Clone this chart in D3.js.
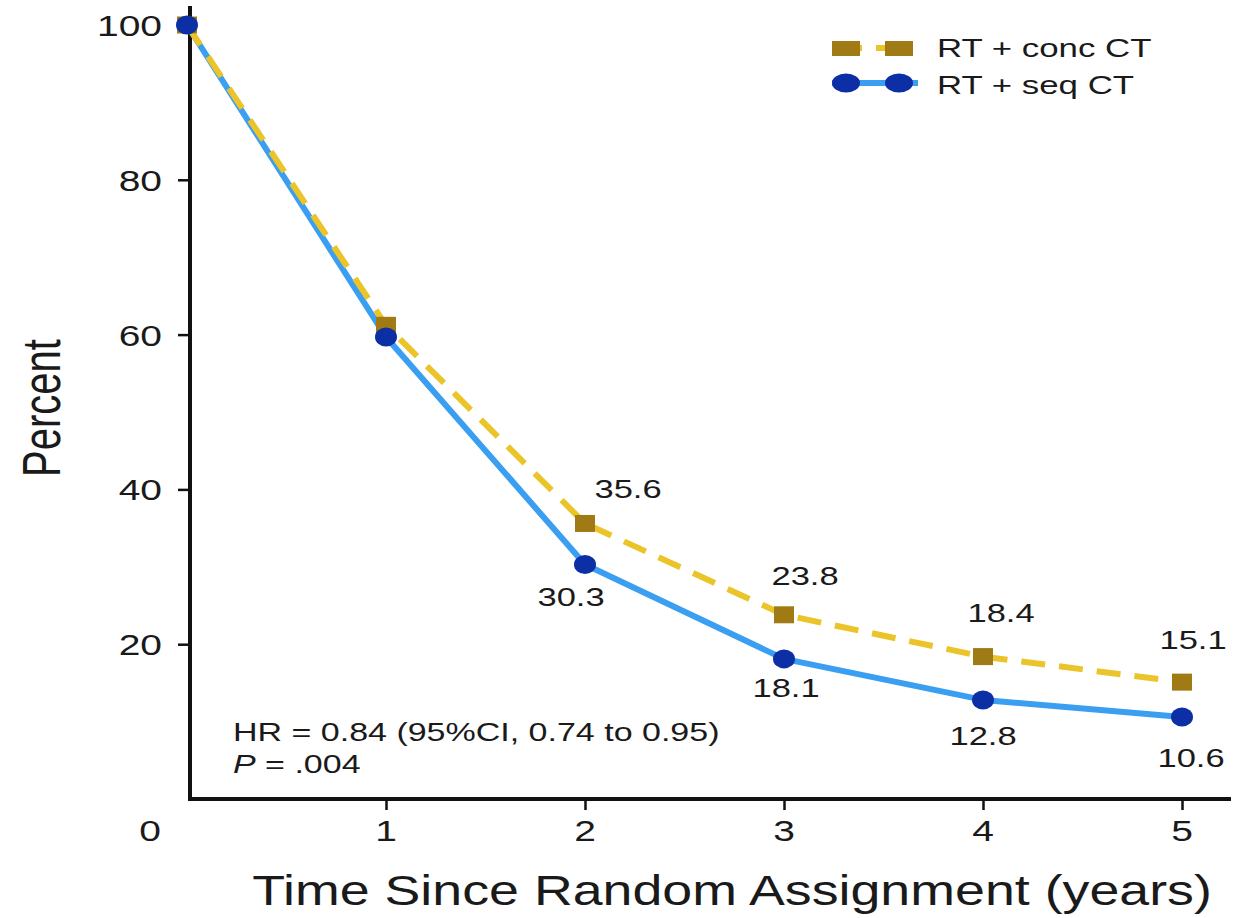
<!DOCTYPE html>
<html><head><meta charset="utf-8">
<script src="https://cdn.jsdelivr.net/npm/d3@7"></script>
<style>body{margin:0;background:#fff}text{font-family:"Liberation Sans",Arial,sans-serif;fill:#1a1a1a}</style>
</head><body><svg id="c" width="1236" height="918"></svg>
<script>
const years = [0, 1, 2, 3, 4, 5];
const concCT = [100, 61.2, 35.6, 23.8, 18.4, 15.1];
const seqCT = [100, 59.7, 30.3, 18.1, 12.8, 10.6];
const concLabels = ["", "", "35.6", "23.8", "18.4", "15.1"];
const seqLabels = ["", "", "30.3", "18.1", "12.8", "10.6"];
const yTicks = [20, 40, 60, 80, 100];
const xTicks = [1, 2, 3, 4, 5];
const seriesNames = ["RT + conc CT", "RT + seq CT"];

const svg = d3.select("#c");
const x = d3.scaleLinear().domain([0, 5]).range([187, 1182]);
const y = d3.scaleLinear().domain([0, 100]).range([799, 25]);

function txt(px, py, s, size, anchor, sx, rot) {
  const t = svg.append("text")
    .attr("transform", `translate(${px},${py}) scale(${sx},1)` + (rot ? ` rotate(${rot})` : ""))
    .attr("font-size", size).attr("text-anchor", anchor).text(s);
  return t;
}

// axes
const yAxis = d3.axisLeft(y).tickValues(yTicks).tickSize(12).tickFormat("");
svg.append("g").attr("transform", "translate(190,0)").call(yAxis)
  .call(g => g.select(".domain").remove())
  .call(g => g.selectAll("line").attr("stroke", "#111").attr("stroke-width", 2.5));
const xAxis = d3.axisBottom(x).tickValues(xTicks).tickSize(11).tickFormat("");
svg.append("g").attr("transform", "translate(0,799)").call(xAxis)
  .call(g => g.select(".domain").remove())
  .call(g => g.selectAll("line").attr("stroke", "#111").attr("stroke-width", 2.5));
svg.append("line").attr("x1", 190).attr("x2", 190).attr("y1", 6).attr("y2", 801)
  .attr("stroke", "#111").attr("stroke-width", 4);
svg.append("line").attr("x1", 188).attr("x2", 1231).attr("y1", 799).attr("y2", 799)
  .attr("stroke", "#111").attr("stroke-width", 4);

yTicks.forEach(v => txt(162, y(v) + 11, String(v), 30, "end", 1.3));
xTicks.forEach(v => txt(x(v), 841, String(v), 30, "middle", 1.3));
txt(150, 841, "0", 30, "middle", 1.3);

// titles
txt(60, 408, "Percent", 40, "middle", 1.32, -90);
txt(732, 905, "Time Since Random Assignment (years)", 42, "middle", 1.28);

// lines
const line = d3.line().x((d, i) => x(years[i])).y(d => y(d));
svg.append("path").datum(seqCT).attr("d", line).attr("fill", "none")
  .attr("stroke", "#3a9ff0").attr("stroke-width", 6).attr("stroke-linejoin", "round");
svg.append("path").datum(concCT).attr("d", line).attr("fill", "none")
  .attr("stroke", "#ebc42a").attr("stroke-width", 6).attr("stroke-dasharray", "24,14");

// markers
svg.selectAll(".sq").data(concCT).join("rect")
  .attr("x", (d, i) => x(years[i]) - 10).attr("y", d => y(d) - 8.5)
  .attr("width", 20).attr("height", 17).attr("fill", "#a07a14");
svg.selectAll(".ci").data(seqCT).join("ellipse")
  .attr("cx", (d, i) => x(years[i])).attr("cy", d => y(d))
  .attr("rx", 11).attr("ry", 9.5).attr("fill", "#0c2fa6");

// data labels
const concOff = [[0,0],[0,0],[43,-25],[21,-30],[18,-35],[11,-33]];
const seqOff = [[0,0],[0,0],[-14,42],[2,38],[0,45],[9,50]];
concLabels.forEach((s, i) => { if (s) txt(x(years[i]) + concOff[i][0], y(concCT[i]) + concOff[i][1], s, 25, "middle", 1.38); });
seqLabels.forEach((s, i) => { if (s) txt(x(years[i]) + seqOff[i][0], y(seqCT[i]) + seqOff[i][1], s, 25, "middle", 1.38); });

// annotation
txt(233, 741, "HR = 0.84 (95%CI, 0.74 to 0.95)", 25, "start", 1.36);
const p = txt(233, 773, "", 25, "start", 1.36);
p.append("tspan").attr("font-style", "italic").text("P");
p.append("tspan").text(" = .004");

// legend
const lg = svg.append("g");
lg.append("line").attr("x1", 832).attr("x2", 915).attr("y1", 48).attr("y2", 48)
  .attr("stroke", "#ebc42a").attr("stroke-width", 6).attr("stroke-dasharray", "28,14").attr("stroke-dashoffset", -2);
[846, 899].forEach(cx => lg.append("rect").attr("x", cx - 14).attr("y", 41).attr("width", 28).attr("height", 15).attr("fill", "#a07a14"));
lg.append("line").attr("x1", 832).attr("x2", 918).attr("y1", 83).attr("y2", 83)
  .attr("stroke", "#3a9ff0").attr("stroke-width", 6);
[846, 899].forEach(cx => lg.append("ellipse").attr("cx", cx).attr("cy", 83).attr("rx", 14).attr("ry", 9.5).attr("fill", "#0c2fa6"));
txt(937, 57, seriesNames[0], 26, "start", 1.34);
txt(937, 94, seriesNames[1], 26, "start", 1.34);
</script></body></html>
